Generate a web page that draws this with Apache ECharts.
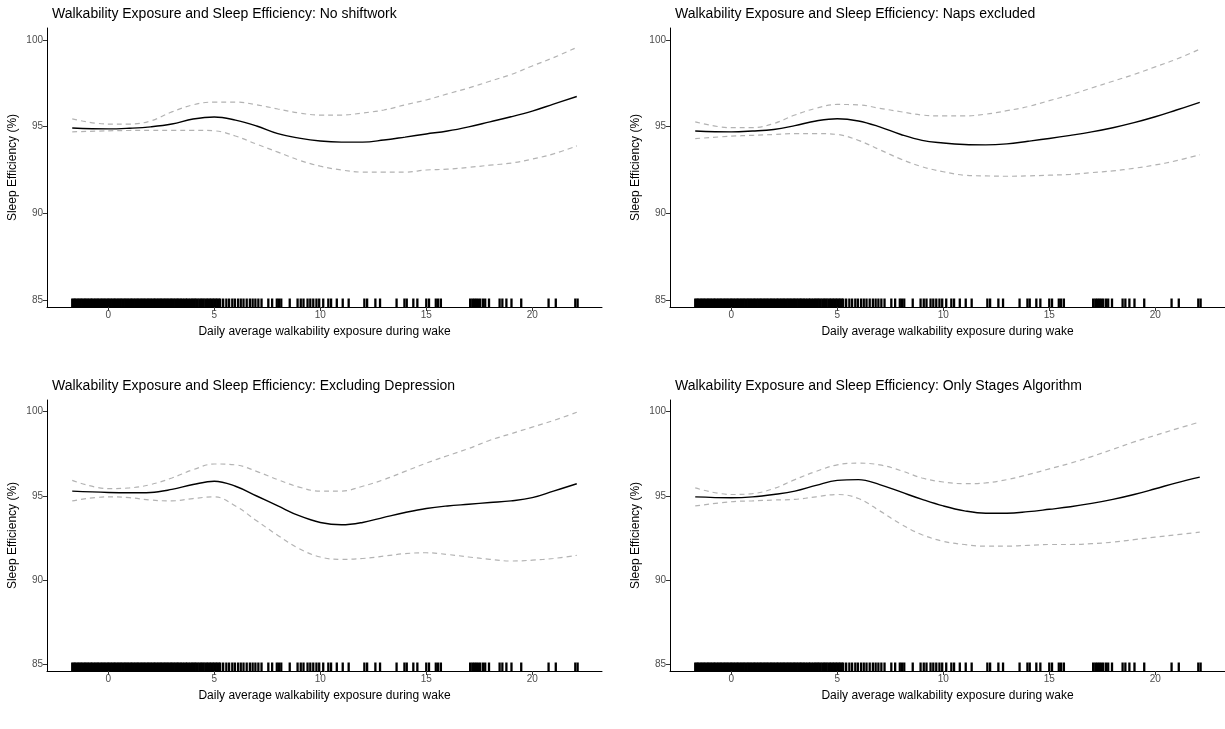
<!DOCTYPE html>
<html>
<head>
<meta charset="utf-8">
<script src="https://cdn.jsdelivr.net/npm/echarts@6/dist/echarts.min.js"></script>
<style>html,body{margin:0;padding:0;background:#fff}#c{width:1225px;height:729px}</style>
</head>
<body>
<div id="c"></div>
<script>
// ---- data ----
const titles = [
  'Walkability Exposure and Sleep Efficiency: No shiftwork',
  'Walkability Exposure and Sleep Efficiency: Naps excluded',
  'Walkability Exposure and Sleep Efficiency: Excluding Depression',
  'Walkability Exposure and Sleep Efficiency: Only Stages Algorithm'
];
const xTicks = [0, 5, 10, 15, 20];
const yTicks = [85, 90, 95, 100];
const xGrid = [-1.7, 0, 1, 2, 3, 4, 5, 6, 7, 8, 9, 10, 11, 12, 13, 14, 15, 16, 17, 18, 19, 20, 21, 22.1];

// No shiftwork
const fit1   = [94.92, 94.87, 94.91, 94.99, 95.15, 95.44, 95.56, 95.38, 95.04, 94.6, 94.34, 94.17, 94.11, 94.11, 94.23, 94.4, 94.58, 94.75, 94.99, 95.28, 95.57, 95.9, 96.3, 96.74];
const upper1 = [95.45, 95.15, 95.15, 95.33, 95.85, 96.26, 96.42, 96.42, 96.26, 96.02, 95.79, 95.67, 95.67, 95.79, 95.96, 96.26, 96.54, 96.89, 97.23, 97.62, 98.01, 98.5, 98.98, 99.57];
const lower1 = [94.7, 94.76, 94.78, 94.79, 94.79, 94.79, 94.76, 94.46, 93.99, 93.53, 93.07, 92.72, 92.5, 92.38, 92.38, 92.38, 92.5, 92.55, 92.65, 92.78, 92.9, 93.13, 93.43, 93.89];
// Naps excluded
const fit2   = [94.75, 94.7, 94.75, 94.84, 95.06, 95.33, 95.46, 95.33, 94.99, 94.55, 94.21, 94.06, 93.97, 93.95, 94.01, 94.16, 94.32, 94.5, 94.7, 94.94, 95.23, 95.57, 95.96, 96.4];
const upper2 = [95.28, 94.94, 94.94, 95.18, 95.67, 96.06, 96.28, 96.26, 96.06, 95.86, 95.67, 95.62, 95.62, 95.72, 95.92, 96.16, 96.5, 96.84, 97.23, 97.62, 98.01, 98.45, 98.89, 99.47];
const lower2 = [94.31, 94.45, 94.5, 94.55, 94.6, 94.6, 94.55, 94.21, 93.67, 93.13, 92.69, 92.4, 92.2, 92.16, 92.14, 92.16, 92.2, 92.25, 92.35, 92.45, 92.6, 92.79, 93.04, 93.38];
// Excluding Depression
const fit3   = [95.28, 95.2, 95.18, 95.2, 95.38, 95.67, 95.87, 95.57, 94.99, 94.4, 93.82, 93.42, 93.28, 93.42, 93.72, 94.01, 94.25, 94.4, 94.5, 94.6, 94.7, 94.89, 95.28, 95.72];
const upper3 = [95.92, 95.43, 95.47, 95.67, 96.06, 96.55, 96.89, 96.84, 96.45, 95.96, 95.52, 95.28, 95.28, 95.57, 95.96, 96.45, 96.94, 97.38, 97.81, 98.3, 98.69, 99.08, 99.47, 99.96];
const lower3 = [94.7, 94.94, 94.89, 94.75, 94.7, 94.84, 94.94, 94.4, 93.52, 92.65, 91.87, 91.37, 91.23, 91.28, 91.42, 91.57, 91.62, 91.52, 91.37, 91.23, 91.13, 91.18, 91.28, 91.47];
// Only Stages Algorithm
const fit4   = [94.94, 94.89, 94.94, 95.08, 95.28, 95.62, 95.92, 95.96, 95.67, 95.23, 94.79, 94.4, 94.11, 93.97, 93.97, 94.06, 94.2, 94.35, 94.55, 94.79, 95.08, 95.42, 95.77, 96.11];
const upper4 = [95.47, 95.08, 95.13, 95.43, 95.96, 96.45, 96.84, 96.94, 96.84, 96.5, 96.06, 95.82, 95.72, 95.77, 95.96, 96.26, 96.6, 96.94, 97.33, 97.76, 98.2, 98.59, 98.98, 99.38];
const lower4 = [94.4, 94.65, 94.7, 94.75, 94.79, 94.94, 95.08, 94.84, 94.11, 93.32, 92.69, 92.3, 92.11, 92.01, 92.01, 92.06, 92.11, 92.11, 92.16, 92.25, 92.4, 92.55, 92.69, 92.84];

// Observed exposures (rug)
const rugX = [
 -1.70,-1.63,-1.57,-1.50,-1.43,-1.36,-1.30,-1.23,-1.16,-1.09,-1.03,-0.96,-0.89,-0.82,-0.76,-0.69,-0.62,-0.55,-0.49,-0.42,
 -0.35,-0.28,-0.22,-0.15,-0.08,-0.01,0.05,0.12,0.19,0.26,0.32,0.39,0.46,0.53,0.59,0.66,0.73,0.80,0.86,0.93,
 1.00,1.07,1.13,1.20,1.27,1.34,1.40,1.47,1.54,1.61,1.67,1.74,1.81,1.88,1.94,2.01,2.08,2.15,2.21,2.28,
 2.35,2.42,2.48,2.55,2.62,2.69,2.75,2.82,2.89,2.96,3.02,3.09,3.16,3.23,3.29,3.36,3.43,3.50,3.58,3.66,
 3.72,3.80,3.88,3.95,4.02,4.08,4.15,4.22,4.30,4.37,4.44,4.50,4.58,4.65,4.72,4.79,4.86,4.93,5.00,5.07,
 5.14,5.21,5.28,
 5.42,5.57,5.70,5.85,5.97,6.12,6.25,6.38,6.53,6.68,6.81,6.94,7.08,7.23,7.55,7.73,7.95,8.05,8.16,8.56,
 8.93,9.08,9.21,9.40,9.53,9.67,9.82,9.95,10.14,10.38,10.51,10.78,11.06,11.34,12.08,12.21,12.60,12.82,13.60,13.97,
 14.08,14.39,14.58,15.00,15.13,15.45,15.56,15.69,17.07,17.17,17.26,17.35,17.44,17.54,17.67,17.78,17.96,18.46,18.59,18.78,
 19.02,19.48,20.77,21.11,22.03,22.14
];

const fits = [fit1, fit2, fit3, fit4];
const uppers = [upper1, upper2, upper3, upper4];
const lowers = [lower1, lower2, lower3, lower4];

// ---- layout ----
const lefts = [47, 670, 47, 670];
const tops = [28, 28, 400, 400];
const heights = [279, 279, 271, 271];
const W = 555;
const XMIN = -2.89, XMAX = 23.29, YMIN = 84.6, YMAX = 100.69;
const FONT = '"Liberation Sans", Arial, sans-serif';

const chart = echarts.init(document.getElementById('c'), null, {renderer: 'canvas'});

const grid = [], xAxis = [], yAxis = [], title = [], series = [];
for (let i = 0; i < 4; i++) {
  grid.push({left: lefts[i], top: tops[i], width: W, height: heights[i], containLabel: false});
  title.push({
    text: titles[i], left: lefts[i], top: tops[i] - 26,
    textStyle: {fontFamily: FONT, fontSize: 14, fontWeight: 'normal', color: '#000'}
  });
  xAxis.push({
    type: 'value', gridIndex: i, min: XMIN, max: XMAX,
    name: 'Daily average walkability exposure during wake',
    nameLocation: 'middle', nameGap: 19,
    nameTextStyle: {fontFamily: FONT, fontSize: 12, color: '#000'},
    axisLine: {show: true, onZero: false, lineStyle: {color: '#000', width: 1}},
    axisTick: {show: true, length: 4, lineStyle: {color: '#333'}, customValues: xTicks},
    axisLabel: {fontFamily: FONT, fontSize: 10, color: '#4d4d4d', margin: 3, customValues: xTicks},
    splitLine: {show: false}
  });
  yAxis.push({
    type: 'value', gridIndex: i, min: YMIN, max: YMAX,
    name: 'Sleep Efficiency (%)',
    nameLocation: 'middle', nameGap: 28,
    nameTextStyle: {fontFamily: FONT, fontSize: 12, color: '#000'},
    axisLine: {show: true, onZero: false, lineStyle: {color: '#000', width: 1}},
    axisTick: {show: true, length: 4, lineStyle: {color: '#333'}, customValues: yTicks},
    axisLabel: {fontFamily: FONT, fontSize: 10, color: '#4d4d4d', margin: 4, customValues: yTicks},
    splitLine: {show: false}
  });
  const mk = arr => xGrid.map((x, k) => [x, arr[k]]);
  series.push({
    type: 'line', xAxisIndex: i, yAxisIndex: i, data: mk(uppers[i]), smooth: 0.4,
    showSymbol: false, silent: true,
    lineStyle: {color: '#b3b3b3', width: 1.2, type: [5, 4]}
  });
  series.push({
    type: 'line', xAxisIndex: i, yAxisIndex: i, data: mk(lowers[i]), smooth: 0.4,
    showSymbol: false, silent: true,
    lineStyle: {color: '#b3b3b3', width: 1.2, type: [5, 4]}
  });
  series.push({
    type: 'line', xAxisIndex: i, yAxisIndex: i, data: mk(fits[i]), smooth: 0.4,
    showSymbol: false, silent: true,
    lineStyle: {color: '#000', width: 1.4}
  });
  series.push({
    type: 'scatter', xAxisIndex: i, yAxisIndex: i, silent: true,
    data: rugX.map(x => [x, YMIN]),
    symbol: 'rect', symbolSize: [2.3, 8.5], symbolOffset: [0, -4.25],
    itemStyle: {color: '#000', opacity: 1}
  });
}

chart.setOption({
  animation: false,
  backgroundColor: '#fff',
  title, grid, xAxis, yAxis, series
});
</script>
</body>
</html>
